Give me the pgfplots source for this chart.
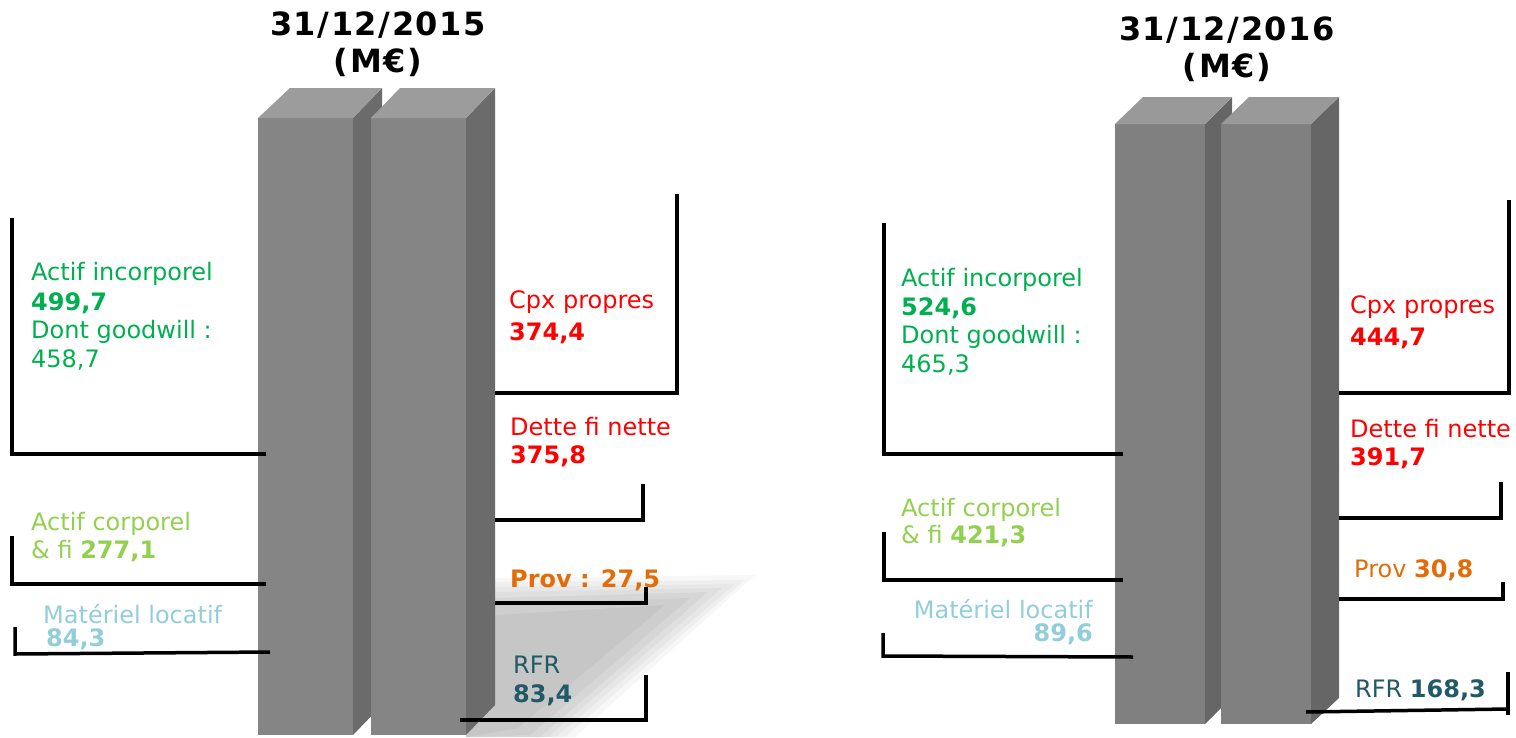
\documentclass[border=0pt]{standalone}
\usepackage{fontspec}
\setmainfont{DejaVu Sans}
\usepackage{pgfplots}
\pgfplotsset{compat=1.18}
\definecolor{cGreen}{HTML}{00B050}
\definecolor{cLGreen}{HTML}{92D050}
\definecolor{cBlue}{HTML}{92CDDC}
\definecolor{cRed}{HTML}{FF0000}
\definecolor{cOrange}{HTML}{E36C09}
\definecolor{cTeal}{HTML}{215968}
\definecolor{fL}{HTML}{858585}
\definecolor{sL}{HTML}{6B6B6B}
\definecolor{tL}{HTML}{9C9C9C}
\definecolor{fR}{HTML}{808080}
\definecolor{sR}{HTML}{666666}
\definecolor{tR}{HTML}{999999}
\newcommand\lf{\fontsize{24}{28}\selectfont}
\newcommand\tf{\fontsize{32}{36}\selectfont\bfseries\addfontfeature{LetterSpace=5}}
\begin{document}
\begin{tikzpicture}
\begin{axis}[name=ax, width=1516pt, height=737pt, scale only axis,
  xmin=0, xmax=1516, ymin=0, ymax=737, y dir=reverse, hide axis, clip=false]
% shadow (left group)
\addplot[fill=black, fill opacity=0.03, draw=none] coordinates {(495,578) (755,575) (575,737) (466,737)} -- cycle;
\addplot[fill=black, fill opacity=0.03, draw=none] coordinates {(495,582) (745,580) (565,737) (466,737)} -- cycle;
\addplot[fill=black, fill opacity=0.035, draw=none] coordinates {(495,587) (735,584) (556,737) (466,737)} -- cycle;
\addplot[fill=black, fill opacity=0.035, draw=none] coordinates {(495,592) (722,588) (548,737) (466,737)} -- cycle;
\addplot[fill=black, fill opacity=0.04, draw=none] coordinates {(495,598) (708,592) (540,737) (466,737)} -- cycle;
\addplot[fill=black, fill opacity=0.04, draw=none] coordinates {(495,605) (690,598) (530,735) (466,737)} -- cycle;
\addplot[fill=black, fill opacity=0.04, draw=none] coordinates {(495,615) (665,605) (518,728) (466,737)} -- cycle;
% left bars
\addplot[fill=sL, draw=none] coordinates {(353,118) (382,88) (382,705) (353,735)} -- cycle;
\addplot[fill=fL, draw=none] coordinates {(258,118) (353,118) (353,735) (258,735)} -- cycle;
\addplot[fill=tL, draw=none] coordinates {(258,118) (290,88) (382,88) (353,118)} -- cycle;
\addplot[fill=sL, draw=none] coordinates {(466,118) (495,88) (495,705) (466,735)} -- cycle;
\addplot[fill=fL, draw=none] coordinates {(371,118) (466,118) (466,735) (371,735)} -- cycle;
\addplot[fill=tL, draw=none] coordinates {(371,118) (400,88) (495,88) (466,118)} -- cycle;
% right bars
\addplot[fill=sR, draw=none] coordinates {(1205,124) (1232,97) (1232,697) (1205,724)} -- cycle;
\addplot[fill=fR, draw=none] coordinates {(1115,124) (1205,124) (1205,724) (1115,724)} -- cycle;
\addplot[fill=tR, draw=none] coordinates {(1115,124) (1143,97) (1232,97) (1205,124)} -- cycle;
\addplot[fill=sR, draw=none] coordinates {(1311,124) (1339,97) (1339,698) (1311,724)} -- cycle;
\addplot[fill=fR, draw=none] coordinates {(1221,124) (1311,124) (1311,724) (1221,724)} -- cycle;
\addplot[fill=tR, draw=none] coordinates {(1221,124) (1249,97) (1339,97) (1311,124)} -- cycle;
% brackets left group
\pgfplotsset{every axis plot/.append style={line join=miter}}
\addplot[black, line width=3.5pt] coordinates {(12,218) (12,454) (266,454)};
\addplot[black, line width=3.5pt] coordinates {(12,536) (12,584) (266,584)};
\addplot[black, line width=3.5pt] coordinates {(15,627) (15,654) (270,652)};
\addplot[black, line width=3.5pt] coordinates {(495,393) (677,393) (677,194)};
\addplot[black, line width=3.5pt] coordinates {(495,520) (643,520) (643,484)};
\addplot[black, line width=3.5pt] coordinates {(495,603) (646,603) (646,587)};
\addplot[black, line width=3.5pt] coordinates {(460,720) (646,720) (646,675)};
% brackets right group
\addplot[black, line width=3.5pt] coordinates {(884,223) (884,454) (1123,454)};
\addplot[black, line width=3.5pt] coordinates {(884,532) (884,580) (1123,580)};
\addplot[black, line width=3.5pt] coordinates {(883,633) (883,656) (1133,657)};
\addplot[black, line width=3.5pt] coordinates {(1339,393) (1509,393) (1509,200)};
\addplot[black, line width=3.5pt] coordinates {(1339,518) (1501,518) (1501,482)};
\addplot[black, line width=3.5pt] coordinates {(1339,599) (1503,599) (1503,582)};
\addplot[black, line width=3.5pt] coordinates {(1306,712) (1508,709)};
\addplot[black, line width=3.5pt] coordinates {(1508,672) (1508,715)};
% titles
\node[anchor=base, inner sep=0, font=\tf] at (axis cs:378,35) {31/12/2015};
\node[anchor=base, inner sep=0, font=\tf] at (axis cs:378,72) {(M€)};
\node[anchor=base, inner sep=0, font=\tf] at (axis cs:1227,40) {31/12/2016};
\node[anchor=base, inner sep=0, font=\tf] at (axis cs:1227,77) {(M€)};
% left group labels
\node[anchor=base west, inner sep=0, font=\lf, text=cGreen] at (axis cs:31,280) {Actif incorporel};
\node[anchor=base west, inner sep=0, font=\lf\bfseries, text=cGreen] at (axis cs:31,310) {499,7};
\node[anchor=base west, inner sep=0, font=\lf, text=cGreen] at (axis cs:31,338) {Dont goodwill :};
\node[anchor=base west, inner sep=0, font=\lf, text=cGreen] at (axis cs:31,367) {458,7};
\node[anchor=base west, inner sep=0, font=\lf, text=cLGreen] at (axis cs:31,530) {Actif corporel};
\node[anchor=base west, inner sep=0, font=\lf, text=cLGreen] at (axis cs:31,558) {\& fi \textbf{277,1}};
\node[anchor=base west, inner sep=0, font=\lf, text=cBlue] at (axis cs:43,623) {Matériel locatif};
\node[anchor=base west, inner sep=0, font=\lf\bfseries, text=cBlue] at (axis cs:46,646) {84,3};
\node[anchor=base west, inner sep=0, font=\lf, text=cRed] at (axis cs:509,308) {Cpx propres};
\node[anchor=base west, inner sep=0, font=\lf\bfseries, text=cRed] at (axis cs:509,340) {374,4};
\node[anchor=base west, inner sep=0, font=\lf, text=cRed] at (axis cs:510,435) {Dette fi nette};
\node[anchor=base west, inner sep=0, font=\lf\bfseries, text=cRed] at (axis cs:510,463) {375,8};
\node[anchor=base west, inner sep=0, font=\lf\bfseries, text=cOrange] at (axis cs:510,587) {Prov : 27,5};
\node[anchor=base west, inner sep=0, font=\lf, text=cTeal] at (axis cs:513,673) {RFR};
\node[anchor=base west, inner sep=0, font=\lf\bfseries, text=cTeal] at (axis cs:513,702) {83,4};
% right group labels
\node[anchor=base west, inner sep=0, font=\lf, text=cGreen] at (axis cs:901,286) {Actif incorporel};
\node[anchor=base west, inner sep=0, font=\lf\bfseries, text=cGreen] at (axis cs:901,315) {524,6};
\node[anchor=base west, inner sep=0, font=\lf, text=cGreen] at (axis cs:901,343) {Dont goodwill :};
\node[anchor=base west, inner sep=0, font=\lf, text=cGreen] at (axis cs:901,372) {465,3};
\node[anchor=base west, inner sep=0, font=\lf, text=cLGreen] at (axis cs:901,516) {Actif corporel};
\node[anchor=base west, inner sep=0, font=\lf, text=cLGreen] at (axis cs:901,543) {\& fi \textbf{421,3}};
\node[anchor=base east, inner sep=0, font=\lf, text=cBlue] at (axis cs:1093,618) {Matériel locatif};
\node[anchor=base east, inner sep=0, font=\lf\bfseries, text=cBlue] at (axis cs:1093,641) {89,6};
\node[anchor=base west, inner sep=0, font=\lf, text=cRed] at (axis cs:1350,313) {Cpx propres};
\node[anchor=base west, inner sep=0, font=\lf\bfseries, text=cRed] at (axis cs:1350,345) {444,7};
\node[anchor=base west, inner sep=0, font=\lf, text=cRed] at (axis cs:1350,437) {Dette fi nette};
\node[anchor=base west, inner sep=0, font=\lf\bfseries, text=cRed] at (axis cs:1350,465) {391,7};
\node[anchor=base west, inner sep=0, font=\lf, text=cOrange] at (axis cs:1354,577) {Prov \textbf{30,8}};
\node[anchor=base west, inner sep=0, font=\lf, text=cTeal] at (axis cs:1355,697) {RFR \textbf{168,3}};
\end{axis}
\pgfresetboundingbox
\path[use as bounding box] (ax.south west) rectangle (ax.north east);
\end{tikzpicture}
\end{document}
